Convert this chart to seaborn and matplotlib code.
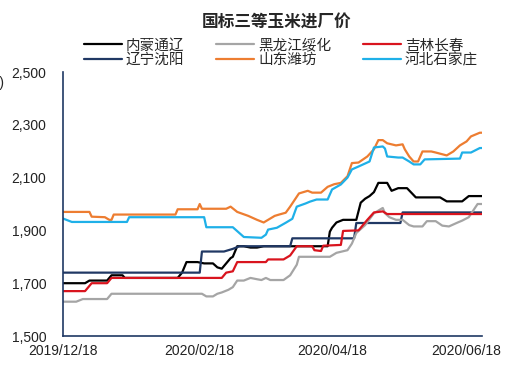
import pandas as pd
import seaborn as sns
import matplotlib.pyplot as plt
import matplotlib.ticker as mticker

# series: turning points (date, price yuan/ton)
nm_dates = ['2019-12-18', '2019-12-28', '2019-12-30', '2020-01-07', '2020-01-09', '2020-01-14',
            '2020-01-15', '2020-02-08', '2020-02-10', '2020-02-12', '2020-02-17', '2020-02-20',
            '2020-02-24', '2020-02-26', '2020-02-28', '2020-03-01', '2020-03-03', '2020-03-04',
            '2020-03-06', '2020-03-09', '2020-03-12', '2020-03-15', '2020-03-18', '2020-04-16',
            '2020-04-17', '2020-04-18', '2020-04-20', '2020-04-23', '2020-04-29', '2020-05-01',
            '2020-05-03', '2020-05-05', '2020-05-07', '2020-05-09', '2020-05-13', '2020-05-15',
            '2020-05-18', '2020-05-22', '2020-05-26', '2020-06-06', '2020-06-09', '2020-06-16',
            '2020-06-19', '2020-06-25']
nm_vals = [1700, 1700, 1710, 1710, 1730, 1730,
           1720, 1720, 1740, 1780, 1780, 1775,
           1775, 1760, 1755, 1775, 1795, 1800,
           1840, 1840, 1835, 1835, 1840, 1840,
           1895, 1910, 1930, 1940, 1940, 2005,
           2020, 2030, 2045, 2080, 2080, 2050,
           2060, 2060, 2025, 2025, 2010, 2010,
           2030, 2030]

ln_dates = ['2019-12-18', '2020-02-18', '2020-02-19', '2020-02-29', '2020-03-04', '2020-03-07',
            '2020-03-30', '2020-03-31', '2020-04-28', '2020-04-29', '2020-05-19', '2020-05-20',
            '2020-06-25']
ln_vals = [1740, 1740, 1820, 1820, 1830, 1840,
           1840, 1870, 1870, 1928, 1928, 1968,
           1968]

hlj_dates = ['2019-12-18', '2019-12-24', '2019-12-27', '2020-01-07', '2020-01-09', '2020-02-19',
             '2020-02-21', '2020-02-24', '2020-02-26', '2020-02-28', '2020-03-02', '2020-03-04',
             '2020-03-06', '2020-03-09', '2020-03-12', '2020-03-15', '2020-03-17', '2020-03-19',
             '2020-03-21', '2020-03-27', '2020-03-30', '2020-04-02', '2020-04-03', '2020-04-17',
             '2020-04-20', '2020-04-25', '2020-04-27', '2020-04-29', '2020-05-03', '2020-05-07',
             '2020-05-11', '2020-05-12', '2020-05-14', '2020-05-17', '2020-05-20', '2020-05-23',
             '2020-05-25', '2020-05-29', '2020-05-31', '2020-06-04', '2020-06-07', '2020-06-10',
             '2020-06-14', '2020-06-16', '2020-06-19', '2020-06-23', '2020-06-25']
hlj_vals = [1630, 1630, 1640, 1640, 1660, 1660,
            1650, 1650, 1660, 1665, 1675, 1685,
            1710, 1710, 1720, 1715, 1712, 1720,
            1712, 1712, 1730, 1770, 1800, 1800,
            1815, 1825, 1850, 1890, 1920, 1965,
            1985, 1965, 1950, 1940, 1940, 1920,
            1915, 1915, 1935, 1935, 1918, 1915,
            1930, 1937, 1950, 2000, 2000]

sd_dates = ['2019-12-18', '2019-12-30', '2019-12-31', '2020-01-06', '2020-01-08', '2020-01-09',
            '2020-01-10', '2020-02-07', '2020-02-08', '2020-02-17', '2020-02-18', '2020-02-19',
            '2020-03-01', '2020-03-03', '2020-03-06', '2020-03-11', '2020-03-15', '2020-03-18',
            '2020-03-20', '2020-03-23', '2020-03-25', '2020-03-28', '2020-03-30', '2020-04-03',
            '2020-04-07', '2020-04-09', '2020-04-13', '2020-04-16', '2020-04-19', '2020-04-22',
            '2020-04-25', '2020-04-27', '2020-04-30', '2020-05-04', '2020-05-07', '2020-05-09',
            '2020-05-11', '2020-05-13', '2020-05-17', '2020-05-20', '2020-05-21', '2020-05-23',
            '2020-05-25', '2020-05-27', '2020-05-29', '2020-06-02', '2020-06-04', '2020-06-09',
            '2020-06-12', '2020-06-15', '2020-06-18', '2020-06-20', '2020-06-24', '2020-06-25']
sd_vals = [1970, 1970, 1952, 1950, 1940, 1940,
           1960, 1960, 1980, 1980, 2000, 1982,
           1982, 1990, 1970, 1955, 1940, 1930,
           1940, 1955, 1960, 1967, 1990, 2040,
           2050, 2043, 2043, 2065, 2075, 2080,
           2105, 2155, 2157, 2180, 2207, 2242,
           2242, 2230, 2222, 2226, 2207, 2180,
           2161, 2161, 2199, 2199, 2195, 2184,
           2199, 2222, 2237, 2256, 2270, 2270]

jl_dates = ['2019-12-18', '2019-12-28', '2019-12-31', '2020-01-07', '2020-01-09', '2020-02-28',
            '2020-03-01', '2020-03-04', '2020-03-06', '2020-03-19', '2020-03-20', '2020-03-27',
            '2020-03-30', '2020-04-02', '2020-04-09', '2020-04-10', '2020-04-13', '2020-04-14',
            '2020-04-22', '2020-04-23', '2020-04-30', '2020-05-04', '2020-05-07', '2020-05-11',
            '2020-05-13', '2020-06-25']
jl_vals = [1670, 1670, 1700, 1700, 1720, 1720,
           1740, 1745, 1780, 1780, 1790, 1790,
           1805, 1840, 1840, 1825, 1822, 1842,
           1845, 1898, 1900, 1940, 1968, 1972,
           1962, 1962]

hb_dates = ['2019-12-18', '2019-12-22', '2020-01-16', '2020-01-17', '2020-02-20', '2020-02-21',
            '2020-03-04', '2020-03-09', '2020-03-17', '2020-03-19', '2020-03-20', '2020-03-24',
            '2020-03-28', '2020-03-31', '2020-04-02', '2020-04-06', '2020-04-08', '2020-04-11',
            '2020-04-16', '2020-04-17', '2020-04-18', '2020-04-22', '2020-04-25', '2020-04-27',
            '2020-04-30', '2020-05-05', '2020-05-07', '2020-05-11', '2020-05-12', '2020-05-13',
            '2020-05-18', '2020-05-20', '2020-05-23', '2020-05-25', '2020-05-28', '2020-05-30',
            '2020-06-15', '2020-06-16', '2020-06-20', '2020-06-24', '2020-06-25']
hb_vals = [1945, 1932, 1932, 1950, 1950, 1912,
           1912, 1875, 1872, 1884, 1903, 1910,
           1929, 1944, 1990, 2002, 2009, 2017,
           2017, 2036, 2055, 2074, 2100, 2131,
           2142, 2161, 2214, 2218, 2210, 2180,
           2176, 2176, 2161, 2150, 2150, 2169,
           2172, 2195, 2195, 2212, 2212]

names = ['内蒙通辽', '辽宁沈阳', '黑龙江绥化', '山东潍坊', '吉林长春', '河北石家庄']
colors = ['#000000', '#203864', '#a5a5a5', '#ed7d31', '#d9141e', '#1fb0e8']
tick_dates = ['2019-12-18', '2020-02-18', '2020-04-18', '2020-06-18']
tick_labels = ['2019/12/18', '2020/02/18', '2020/04/18', '2020/06/18']

series = [(nm_dates, nm_vals), (ln_dates, ln_vals), (hlj_dates, hlj_vals),
          (sd_dates, sd_vals), (jl_dates, jl_vals), (hb_dates, hb_vals)]
frames = []
for name, (d, v) in zip(names, series):
    frames.append(pd.DataFrame({'date': pd.to_datetime(d), 'price': v, 'region': name}))
df = pd.concat(frames, ignore_index=True)

sns.set_style('white')
plt.rcParams['font.family'] = ['Liberation Sans', 'Noto Sans CJK SC', 'DejaVu Sans']

fig = plt.figure(figsize=(5.1, 3.67), dpi=100)
ax = fig.add_axes([63 / 510, 1 - 336 / 367, (482 - 63) / 510, (336 - 72) / 367])

sns.lineplot(data=df, x='date', y='price', hue='region', hue_order=names,
             palette=dict(zip(names, colors)), linewidth=1.6, ax=ax, estimator=None)

ax.set_xlim(pd.Timestamp('2019-12-18'), pd.Timestamp('2020-06-25'))
ax.set_ylim(1500, 2500)
ax.set_yticks(range(1500, 2501, 200))
ax.yaxis.set_major_formatter(mticker.FuncFormatter(lambda v, p: f'{int(v):,}'))
ax.set_xticks(pd.to_datetime(tick_dates))
ax.set_xticklabels(tick_labels)
ax.set_xlabel('')
ax.set_ylabel('')

navy = '#1f3864'
for s in ['top', 'right']:
    ax.spines[s].set_visible(False)
for s in ['left', 'bottom']:
    ax.spines[s].set_color(navy)
    ax.spines[s].set_linewidth(1.2)
ax.tick_params(axis='both', direction='in', length=4, width=1, color=navy,
               labelsize=10, labelcolor='#222222')
ax.tick_params(axis='y', pad=12)
ax.tick_params(axis='x', pad=6)

handles, labels = ax.get_legend_handles_labels()
ax.get_legend().remove()
fig.legend(handles, labels, ncol=3, loc='center', bbox_to_anchor=(281 / 510, 1 - 53 / 367),
           frameon=False, fontsize=10.5, handlelength=2.6, handletextpad=0.25,
           columnspacing=2.2, labelspacing=0.05)

fig.suptitle('国标三等玉米进厂价', x=277 / 510, y=1 - 23 / 367, va='center',
             fontsize=12, fontweight='bold', family=['Noto Sans CJK SC', 'DejaVu Sans'])
fig.text(4 / 510, 1 - 82 / 367, '(元/吨)', ha='right', va='center', fontsize=10)

fig.savefig('out.png', dpi=100)
